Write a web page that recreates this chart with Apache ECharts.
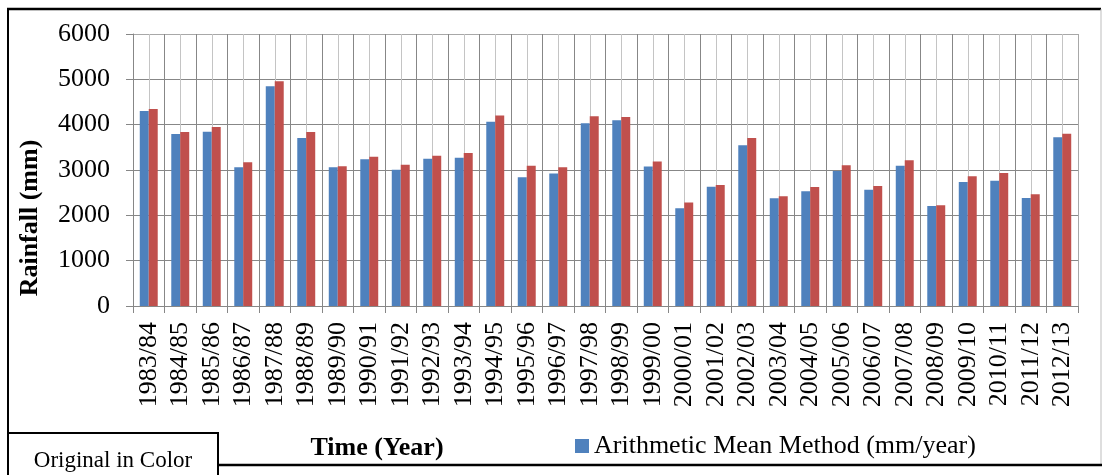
<!DOCTYPE html>
<html>
<head>
<meta charset="utf-8">
<title>Annual Rainfall</title>
<script src="https://cdn.jsdelivr.net/npm/echarts@6/dist/echarts.min.js"></script>
<style>
  html, body { margin: 0; padding: 0; background: #fff; }
  #chart { width: 1102px; height: 475px; }
</style>
</head>
<body>
<div id="chart"></div>
<script>
// Hydrological years
const years = [
  '1983/84','1984/85','1985/86','1986/87','1987/88','1988/89','1989/90','1990/91',
  '1991/92','1992/93','1993/94','1994/95','1995/96','1996/97','1997/98','1998/99',
  '1999/00','2000/01','2001/02','2002/03','2003/04','2004/05','2005/06','2006/07',
  '2007/08','2008/09','2009/10','2010/11','2011/12','2012/13'
];

// Areal rainfall, arithmetic mean method (mm/year)
const arithmeticMean = [
  4300, 3795, 3845, 3060, 4845, 3705, 3060, 3235,
  3005, 3250, 3270, 4065, 2840, 2925, 4030, 4100,
  3075, 2155, 2630, 3545, 2375, 2530, 2980, 2565,
  3095, 2205, 2735, 2765, 2380, 3720
];

// Areal rainfall, second averaging method (mm/year)
const thiessenPolygon = [
  4345, 3840, 3950, 3170, 4955, 3840, 3080, 3295,
  3115, 3315, 3375, 4200, 3095, 3060, 4185, 4170,
  3185, 2285, 2670, 3705, 2420, 2625, 3105, 2645,
  3215, 2220, 2860, 2935, 2465, 3800
];

const yTicks = [0, 1000, 2000, 3000, 4000, 5000, 6000];

const seriesNames = ['Arithmetic Mean Method (mm/year)', 'Thiessen Polygon Method (mm/year)'];

const serif = '"Liberation Serif", "Times New Roman", serif';
const gridDark = '#878787';
const gridLight = '#c4c4c4';

const chart = echarts.init(document.getElementById('chart'), null, { renderer: 'canvas' });

const ySplitColors = yTicks.map((v, i) => (i === yTicks.length - 1 ? '#a8a8a8' : gridDark));
const xSplitColors = years.map(() => gridDark).concat(['#a8a8a8']);

chart.setOption({
  animation: false,
  backgroundColor: '#ffffff',
  color: ['#4F81BD', '#C0504D'],
  grid: { left: 133, right: 24, top: 34, bottom: 169, containLabel: false },
  legend: {
    data: [seriesNames[0]],
    left: 575,
    top: 433,
    padding: 0,
    icon: 'rect',
    itemWidth: 14,
    itemHeight: 14,
    textStyle: { fontFamily: serif, fontSize: 26, color: '#000', lineHeight: 26 },
    selectedMode: false
  },
  xAxis: [
    {
      type: 'category',
      data: years,
      boundaryGap: true,
      axisLine: { show: true, lineStyle: { color: gridDark, width: 1 } },
      axisTick: { show: true, length: 7, interval: 0, lineStyle: { color: gridDark } },
      splitLine: { show: true, interval: 0, lineStyle: { color: xSplitColors, width: 1 } },
      axisLabel: {
        interval: 0,
        rotate: 90,
        margin: 16,
        fontFamily: serif,
        fontSize: 26,
        color: '#000'
      }
    },
    {
      // carries the lighter lines through the middle of each year
      type: 'value',
      min: 0,
      max: 30,
      interval: 1,
      position: 'bottom',
      show: true,
      axisLine: { show: false },
      axisTick: { show: false },
      axisLabel: { show: false },
      splitLine: { show: false },
      minorTick: { show: false, splitNumber: 2 },
      minorSplitLine: { show: true, lineStyle: { color: gridLight, width: 1 } }
    }
  ],
  yAxis: {
    type: 'value',
    min: 0,
    max: 6000,
    interval: 1000,
    axisLine: { show: true, lineStyle: { color: gridDark, width: 1 } },
    axisTick: { show: true, length: 7, lineStyle: { color: gridDark } },
    splitLine: { show: true, lineStyle: { color: ySplitColors, width: 1 } },
    axisLabel: {
      margin: 23,
      fontFamily: serif,
      fontSize: 26,
      color: '#000',
      formatter: (v) => String(v)
    }
  },
  series: [
    {
      name: seriesNames[0],
      type: 'bar',
      xAxisIndex: 0,
      data: arithmeticMean,
      barGap: '0%',
      barCategoryGap: '43%',
      itemStyle: { color: '#4F81BD' },
      z: 3
    },
    {
      name: seriesNames[1],
      type: 'bar',
      xAxisIndex: 0,
      data: thiessenPolygon,
      barGap: '0%',
      barCategoryGap: '43%',
      itemStyle: { color: '#C0504D' },
      z: 3
    }
  ],
  graphic: [
    // frame around the figure
    { type: 'line', shape: { x1: 7, y1: 9, x2: 1101, y2: 9 }, style: { stroke: '#000', lineWidth: 2.5 }, z: 10 },
    { type: 'line', shape: { x1: 8, y1: 8, x2: 8, y2: 475 }, style: { stroke: '#000', lineWidth: 2 }, z: 10 },
    { type: 'line', shape: { x1: 1101, y1: 9, x2: 1101, y2: 465 }, style: { stroke: '#bdbdbd', lineWidth: 1 }, z: 10 },
    { type: 'line', shape: { x1: 218, y1: 465, x2: 1102, y2: 465 }, style: { stroke: '#000', lineWidth: 2.5 }, z: 10 },
    // colour note box
    { type: 'rect', shape: { x: 8, y: 433, width: 210, height: 50 }, style: { fill: '#fff', stroke: '#000', lineWidth: 2 }, z: 10 },
    {
      type: 'text', x: 113, y: 461, z: 11,
      style: { text: 'Original in Color', fontFamily: serif, fontSize: 23, fill: '#000', align: 'center', verticalAlign: 'middle' }
    },
    // axis titles
    {
      type: 'text', x: 377, y: 448, z: 11,
      style: { text: 'Time (Year)', fontFamily: serif, fontSize: 26, fontWeight: 'bold', fill: '#000', align: 'center', verticalAlign: 'middle' }
    },
    {
      type: 'text', x: 30, y: 218, rotation: Math.PI / 2, z: 11,
      style: { text: 'Rainfall (mm)', fontFamily: serif, fontSize: 26, fontWeight: 'bold', fill: '#000', align: 'center', verticalAlign: 'middle' }
    }
  ]
});
</script>
</body>
</html>
